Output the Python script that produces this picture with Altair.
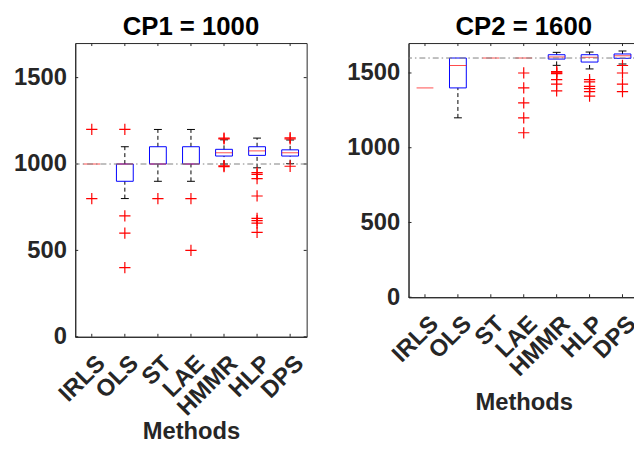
import altair as alt
import pandas as pd

methods = ["IRLS", "OLS", "ST", "LAE", "HMMR", "HLP", "DPS"]
y_ticks = [0, 500, 1000, 1500]

# ---- CP1 = 1000 ----
cp1_title = "CP1 = 1000"
cp1_ref = 1000
cp1_q1 = [1000, 900, 1000, 1000, 1046, 1050, 1046]
cp1_median = [1000, 1000, 1000, 1000, 1065, 1076, 1065]
cp1_q3 = [1000, 1000, 1100, 1100, 1085, 1100, 1082]
cp1_whisker_low = [1000, 800, 900, 900, 1000, 978, 1002]
cp1_whisker_high = [1000, 1100, 1200, 1200, 1140, 1150, 1139]
cp1_outliers = {
    "IRLS": [1200, 800],
    "OLS": [1200, 700, 600, 400],
    "ST": [800],
    "LAE": [800, 500],
    "HMMR": [1150, 1145, 990, 985],
    "HLP": [950, 940, 915, 815, 685, 672, 658, 604],
    "DPS": [1152, 1145, 987],
}

# ---- CP2 = 1600 ----
cp2_title = "CP2 = 1600"
cp2_ref = 1600
cp2_q1 = [1400, 1400, 1600, 1600, 1593, 1573, 1598]
cp2_median = [1400, 1550, 1600, 1600, 1607, 1605, 1615]
cp2_q3 = [1400, 1600, 1600, 1600, 1622, 1622, 1627]
cp2_whisker_low = [1400, 1200, 1600, 1600, 1551, 1527, 1560]
cp2_whisker_high = [1400, 1600, 1600, 1600, 1638, 1640, 1647]
cp2_outliers = {
    "LAE": [1500, 1400, 1300, 1200, 1100],
    "HMMR": [1510, 1505, 1500, 1495, 1455, 1425, 1380],
    "HLP": [1455, 1440, 1410, 1395, 1375, 1345],
    "DPS": [1550, 1500, 1425, 1375],
}

FONT = "Liberation Sans"
AXC = "#262626"
TICK = 3


def build_panel(title, ref, q1, med, q3, wlo, whi, outliers, width, height,
                title_pad):
    stats = pd.DataFrame({"method": methods, "q1": q1, "median": med, "q3": q3,
                          "wlo": wlo, "whi": whi})
    outs = pd.DataFrame([{"method": m, "value": v}
                         for m in methods for v in outliers.get(m, [])])
    ref_df = pd.DataFrame({"value": [ref]})
    yt_df = pd.DataFrame({"value": y_ticks})
    xt_df = pd.DataFrame({"method": methods})

    x_axis = alt.Axis(title="Methods", labelAngle=315, labelAlign="right",
                      labelBaseline="middle", labelPadding=23, labelOffset=10,
                      ticks=False, tickSize=0, domainColor=AXC, labelFontSize=24,
                      labelFont=FONT, labelFontWeight="bold", labelColor=AXC,
                      titleFontSize=24, titleFont=FONT, titleFontWeight="bold",
                      titleColor=AXC, titlePadding=title_pad)
    y_axis = alt.Axis(title=None, values=y_ticks, format="d", ticks=False,
                      tickSize=0, grid=False, domainColor=AXC, labelFontSize=24,
                      labelFont=FONT, labelFontWeight="bold", labelColor=AXC,
                      labelPadding=9)
    xscale = alt.Scale(domain=methods, paddingInner=0, paddingOuter=0)
    yscale = alt.Scale(domain=[0, 1700], nice=False)

    def X():
        return alt.X("method:N", sort=methods, scale=xscale, axis=x_axis)

    def Y(field):
        return alt.Y(f"{field}:Q", scale=yscale, axis=y_axis)

    ref_line = alt.Chart(ref_df).mark_rule(
        color="#808080", strokeWidth=1, strokeDash=[6, 3, 1.5, 3]
    ).encode(y=Y("value"))

    whisk_hi = alt.Chart(stats).mark_rule(
        color="black", strokeWidth=1, strokeDash=[4, 3]
    ).encode(x=X(), y=Y("q3"), y2="whi:Q")
    whisk_lo = alt.Chart(stats).mark_rule(
        color="black", strokeWidth=1, strokeDash=[4, 3]
    ).encode(x=X(), y=Y("wlo"), y2="q1:Q")
    cap_hi = alt.Chart(stats).mark_tick(color="black", size=8, thickness=1).encode(
        x=X(), y=Y("whi"),
        opacity=alt.condition("datum.whi > datum.q3", alt.value(1), alt.value(0)))
    cap_lo = alt.Chart(stats).mark_tick(color="black", size=8, thickness=1).encode(
        x=X(), y=Y("wlo"),
        opacity=alt.condition("datum.wlo < datum.q1", alt.value(1), alt.value(0)))
    box = alt.Chart(stats).mark_bar(
        fillOpacity=0, stroke="#0000ff", strokeWidth=1, size=17
    ).encode(
        x=X(), y=Y("q1"), y2="q3:Q",
        strokeOpacity=alt.condition("datum.q3 > datum.q1", alt.value(1), alt.value(0)))
    median = alt.Chart(stats).mark_tick(color="#ff0000", size=17, thickness=1).encode(
        x=X(), y=Y("median"))
    out_pts = alt.Chart(outs).mark_point(
        shape="M-1,0L1,0M0,-1L0,1", filled=False, color="#ff0000",
        size=130, strokeWidth=1.2, opacity=1
    ).encode(x=X(), y=Y("value"))

    ytick_l = alt.Chart(yt_df).mark_rule(color=AXC).encode(
        y=Y("value"), x=alt.value(0), x2=alt.value(TICK))
    ytick_r = alt.Chart(yt_df).mark_rule(color=AXC).encode(
        y=Y("value"), x=alt.value(width - TICK), x2=alt.value(width))
    xtick_b = alt.Chart(xt_df).mark_rule(color=AXC).encode(
        x=X(), y=alt.value(height - TICK), y2=alt.value(height))
    xtick_t = alt.Chart(xt_df).mark_rule(color=AXC).encode(
        x=X(), y=alt.value(0), y2=alt.value(TICK))

    return alt.layer(
        ytick_l, ytick_r, xtick_b, xtick_t,
        whisk_hi, whisk_lo, cap_hi, cap_lo, box, median, ref_line, out_pts
    ).properties(
        width=width, height=height,
        title=alt.TitleParams(title, fontSize=26, font=FONT, fontWeight="bold",
                              color="black", offset=3),
    )


left = build_panel(cp1_title, cp1_ref, cp1_q1, cp1_median, cp1_q3,
                   cp1_whisker_low, cp1_whisker_high, cp1_outliers, 234, 297, 0)
right = build_panel(cp2_title, cp2_ref, cp2_q1, cp2_median, cp2_q3,
                    cp2_whisker_low, cp2_whisker_high, cp2_outliers, 233, 257, 10)

chart = alt.hconcat(left, right, spacing=103, bounds="flush").properties(
    padding={"left": 5, "top": 3, "right": -7, "bottom": 1},
    background="white",
).configure_view(stroke=AXC, strokeWidth=1)

chart.save("out.html", embed_options={"renderer": "svg", "actions": False})
